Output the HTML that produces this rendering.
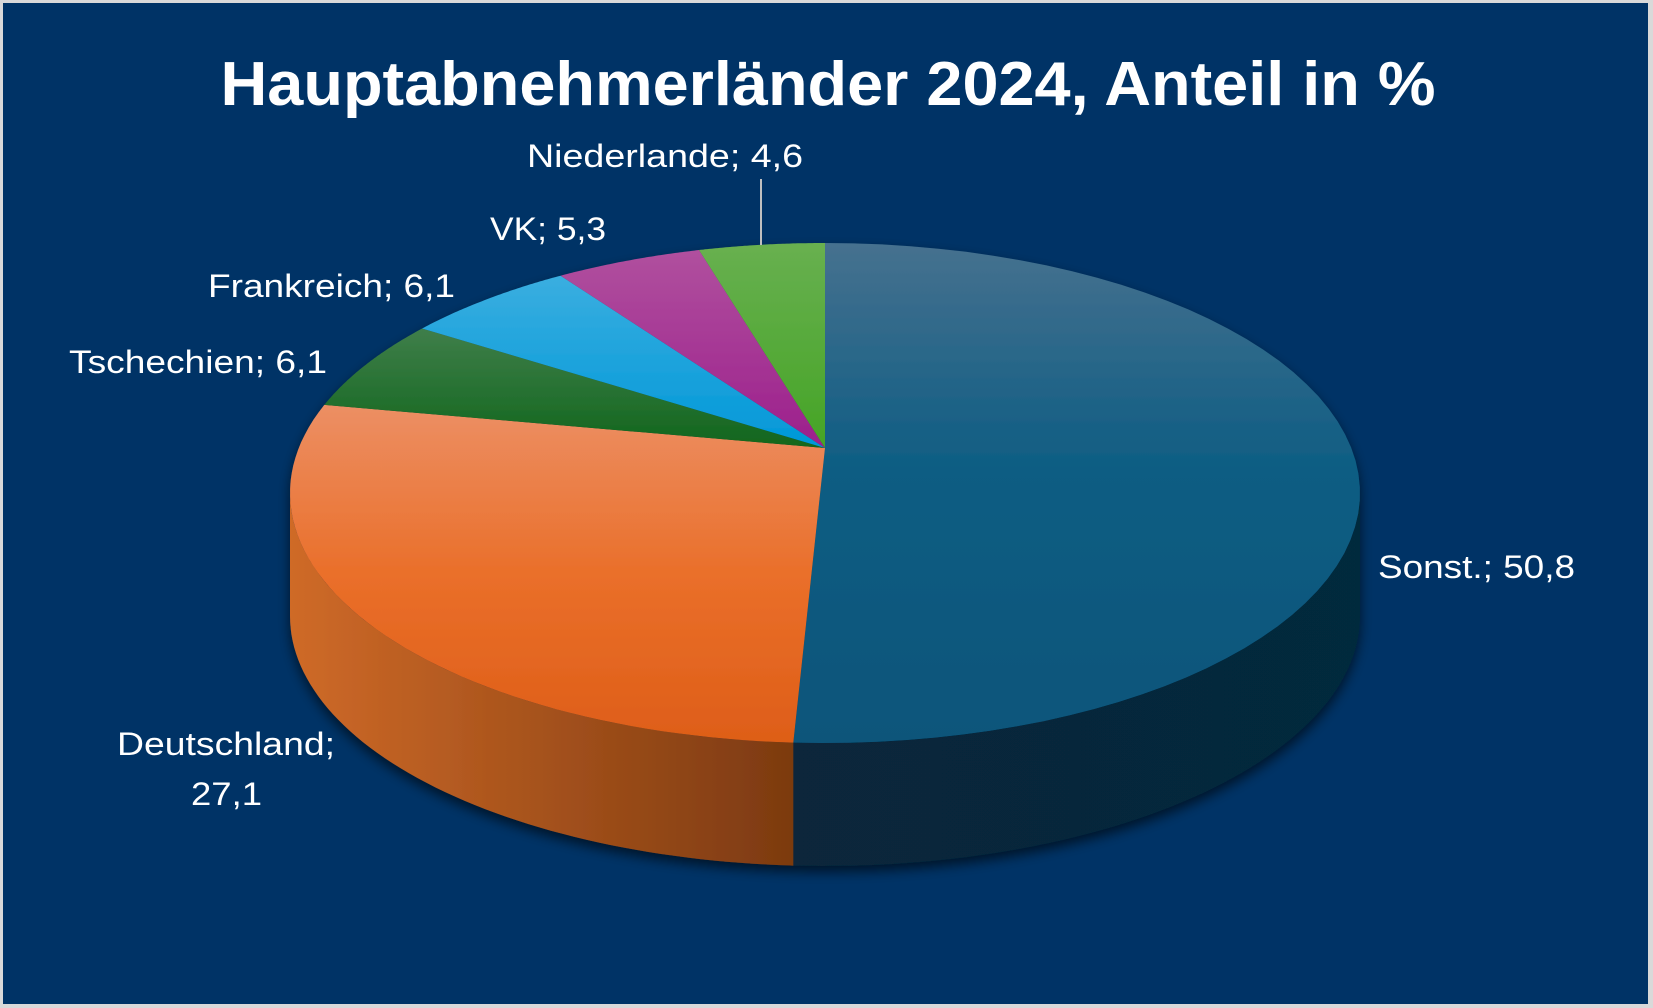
<!DOCTYPE html>
<html><head><meta charset="utf-8">
<style>
html,body{margin:0;padding:0;background:#d9d9d9;}
svg{display:block;font-family:"Liberation Sans",sans-serif;}
</style></head>
<body>
<svg id="chart" width="1653" height="1008" viewBox="0 0 1653 1008">
<defs>
<linearGradient id="g0" x1="0" y1="0" x2="0" y2="1"><stop offset="0" stop-color="#46718f"/><stop offset="0.45" stop-color="#0e5d83"/><stop offset="1" stop-color="#0a557a"/></linearGradient>
<linearGradient id="g1" x1="0" y1="0" x2="0" y2="1"><stop offset="0" stop-color="#ec8f64"/><stop offset="0.5" stop-color="#ea6f2a"/><stop offset="1" stop-color="#de5e18"/></linearGradient>
<linearGradient id="g2" x1="0" y1="0" x2="0" y2="1"><stop offset="0" stop-color="#3f7e4a"/><stop offset="1" stop-color="#11661c"/></linearGradient>
<linearGradient id="g3" x1="0" y1="0" x2="0" y2="1"><stop offset="0" stop-color="#3aaee0"/><stop offset="1" stop-color="#0098d8"/></linearGradient>
<linearGradient id="g4" x1="0" y1="0" x2="0" y2="1"><stop offset="0" stop-color="#b0509e"/><stop offset="1" stop-color="#9c1f8c"/></linearGradient>
<linearGradient id="g5" x1="0" y1="0" x2="0" y2="1"><stop offset="0" stop-color="#68b050"/><stop offset="1" stop-color="#45a425"/></linearGradient>
<linearGradient id="s0" x1="0" y1="0" x2="1" y2="0"><stop offset="0" stop-color="#07273a"/><stop offset="1" stop-color="#06293c"/></linearGradient>
<linearGradient id="s1" x1="0" y1="0" x2="1" y2="0"><stop offset="0" stop-color="#cf6a28"/><stop offset="1" stop-color="#7c3a10"/></linearGradient>
<filter id="sh" x="-10%" y="-10%" width="120%" height="130%"><feDropShadow dx="0" dy="6" stdDeviation="6" flood-color="#000" flood-opacity="0.6"/></filter>
</defs>
<rect x="0" y="0" width="1653" height="1008" fill="#d9d9d9"/>
<rect x="3" y="3" width="1645" height="1001" fill="#003366"/>
<text x="828" y="105" text-anchor="middle" font-size="62" font-weight="bold" fill="#ffffff" textLength="1215" lengthAdjust="spacingAndGlyphs">Hauptabnehmerländer 2024, Anteil in %</text>
<g id="pie" filter="url(#sh)"></g>
<g id="labels"></g>
<line x1="761" y1="179" x2="761" y2="245" stroke="#bfbfbf" stroke-width="2"/>
</svg>
<script>
const categories = ["Sonst.", "Deutschland", "Tschechien", "Frankreich", "VK", "Niederlande"];
const values = [50.8, 27.1, 6.1, 6.1, 5.3, 4.6];
const valueLabels = ["50,8", "27,1", "6,1", "6,1", "5,3", "4,6"];

const NS = "http://www.w3.org/2000/svg";
const cx = 825, cy = 493, ay = 448, rx = 535, ry = 250, depth = 123;
const k = ry / rx;
const tops = ["url(#g0)","url(#g1)","url(#g2)","url(#g3)","url(#g4)","url(#g5)"];
const sides = ["url(#s0)","url(#s1)","#0c4a18","#0077aa","#701866","#337a1c"];
const total = values.reduce((a,b)=>a+b,0);
function pt(t, dy){ return [cx + rx*Math.sin(t), cy - ry*Math.cos(t) + (dy||0)]; }
// map a true pie angle (perspective from apex) to ellipse parameter angle
function toParam(phi){
  const dx = Math.sin(phi), dy = -Math.cos(phi)*k;
  const oy = ay - cy;
  const A = (dx*dx)/(rx*rx) + (dy*dy)/(ry*ry);
  const B = 2*oy*dy/(ry*ry);
  const C = (oy*oy)/(ry*ry) - 1;
  const t = (-B + Math.sqrt(B*B - 4*A*C)) / (2*A);
  const x = dx*t, y = oy + dy*t;
  let th = Math.atan2(x/rx, -y/ry);
  if (th < 0) th += 2*Math.PI;
  return th;
}
function arc(t0, t1, dy){ let s=""; const n=60; for(let i=0;i<=n;i++){const t=t0+(t1-t0)*i/n; const p=pt(t,dy); s+=(i?"L":"")+p[0].toFixed(1)+","+p[1].toFixed(1)+" ";} return s; }
const pie = document.getElementById("pie");
const labels = document.getElementById("labels");
let acc = 0;
const angles = values.map(v=>{
  const a0=acc/total*2*Math.PI; acc+=v; const a1=acc/total*2*Math.PI;
  let p0 = a0 <= 1e-9 ? 0 : toParam(a0);
  let p1 = a1 >= 2*Math.PI-1e-9 ? 2*Math.PI : toParam(a1);
  if (p1 < p0) p1 += 2*Math.PI;
  return [p0, p1];
});
angles.forEach((a,i)=>{
  const s0=Math.max(a[0],Math.PI/2), s1=Math.min(a[1],3*Math.PI/2);
  if(s1<=s0) return;
  const p=document.createElementNS(NS,"path");
  p.setAttribute("d","M"+arc(s0,s1,0)+"L"+arc(s1,s0,depth)+"Z");
  p.setAttribute("fill",sides[i]);
  
  
  pie.appendChild(p);
});
angles.forEach((a,i)=>{
  const p=document.createElementNS(NS,"path");
  p.setAttribute("d","M"+cx+","+ay+" L"+arc(a[0],a[1],0)+"Z");
  p.setAttribute("fill",tops[i]);
  
  
  pie.appendChild(p);
});
const labelPos = [[1378,578,197],[117,755,218],[69,373,258],[208,297,247],[490,240,116],[527,167,276]];
categories.forEach((c,i)=>{
  const lp=labelPos[i];
  const t=document.createElementNS(NS,"text");
  t.setAttribute("x",lp[0]); t.setAttribute("y",lp[1]);
  t.setAttribute("fill","#ffffff"); t.setAttribute("font-size","32");
  t.setAttribute("textLength",lp[2]); t.setAttribute("lengthAdjust","spacingAndGlyphs");
  t.textContent = (c==="Deutschland") ? c+";" : c+"; "+valueLabels[i];
  
  
  labels.appendChild(t);
  if(c==="Deutschland"){
    const t2=document.createElementNS(NS,"text");
    t2.setAttribute("x",191); t2.setAttribute("y",805);
    t2.setAttribute("fill","#ffffff"); t2.setAttribute("font-size","32");
    t2.setAttribute("textLength",71); t2.setAttribute("lengthAdjust","spacingAndGlyphs");
    t2.textContent=valueLabels[i];
    
    
    labels.appendChild(t2);
  }
});
</script>
</body></html>
